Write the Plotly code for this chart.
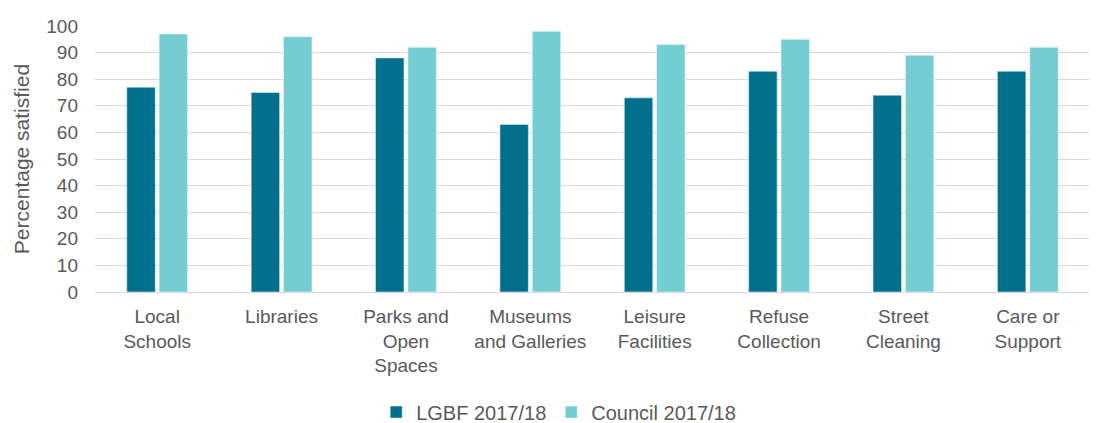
import plotly.graph_objects as go

categories = ["Local<br>Schools", "Libraries", "Parks and<br>Open<br>Spaces", "Museums<br>and Galleries",
              "Leisure<br>Facilities", "Refuse<br>Collection", "Street<br>Cleaning", "Care or<br>Support"]
lgbf = [77, 75, 88, 63, 73, 83, 74, 83]
council = [97, 96, 92, 98, 93, 95, 89, 92]
y_ticks = [0, 10, 20, 30, 40, 50, 60, 70, 80, 90, 100]

FONT = "Liberation Sans, Arial, sans-serif"
GREY = "#595959"

fig = go.Figure()
fig.add_trace(go.Bar(x=categories, y=lgbf, name="LGBF 2017/18",
                     marker=dict(color="#02708D", line=dict(color="#d8eef2", width=0.6))))
fig.add_trace(go.Bar(x=categories, y=council, name="Council 2017/18",
                     marker=dict(color="#74CDD2", line=dict(color="#e8f8f8", width=0.6))))

fig.update_layout(
    width=1089, height=415,
    margin=dict(l=87, r=7, t=18, b=131, autoexpand=False),
    paper_bgcolor="white", plot_bgcolor="white",
    barmode="group", bargap=0.48, bargroupgap=0.12,
    font=dict(family=FONT, size=19, color=GREY),
    showlegend=True,
    legend=dict(orientation="h", x=0.466, xanchor="center", y=-0.378, yanchor="top",
                font=dict(family=FONT, size=20, color=GREY), traceorder="normal",
                itemwidth=30),
)
fig.update_yaxes(range=[0, 100], tickvals=y_ticks, showgrid=True, gridcolor="#D9D9D9", gridwidth=1.3,
                 zeroline=False, showline=False, ticks="", ticklen=0, automargin=False,
                 ticklabelstandoff=16,
                 tickfont=dict(family=FONT, size=19, color=GREY),
                 title=dict(text="Percentage satisfied", font=dict(family=FONT, size=21, color=GREY), standoff=10))
fig.update_xaxes(showgrid=False, showline=True, linecolor="#D9D9D9", linewidth=1.3, automargin=False,
                 ticks="", ticklabelstandoff=7, tickfont=dict(family=FONT, size=19, color=GREY))

fig.write_html("out.html")
